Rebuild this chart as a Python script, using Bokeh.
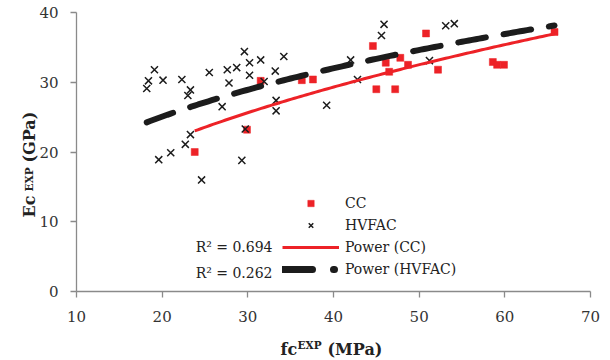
import math
import numpy as np
from bokeh.plotting import figure
from bokeh.models import Range1d, FixedTicker, Label, Legend, LegendItem
from bokeh.embed import file_html
from bokeh.resources import INLINE

# ---- data ----
cc_fc = [23.8, 29.9, 31.5, 36.3, 37.6, 44.6, 45.0, 46.1, 46.5, 47.2, 47.8, 48.7,
         50.8, 52.2, 58.6, 59.1, 59.9, 65.8]
cc_ec = [20.0, 23.2, 30.2, 30.3, 30.4, 35.2, 29.0, 32.8, 31.5, 29.0, 33.5, 32.5,
         37.0, 31.8, 32.9, 32.5, 32.5, 37.2]

hv_fc = [18.2, 18.4, 19.1, 20.1, 22.3, 23.0, 23.3, 25.5, 27.6, 27.8, 28.7, 29.6,
         30.2, 30.2, 31.5, 31.9, 33.2, 34.2, 27.0, 33.3, 33.3, 23.3, 22.7, 21.0,
         19.6, 24.6, 29.3, 29.7, 39.2, 42.0, 42.8, 45.9, 45.6, 51.2, 53.1, 54.1]
hv_ec = [29.1, 30.2, 31.8, 30.3, 30.4, 28.1, 28.9, 31.4, 31.8, 29.9, 32.1, 34.4,
         32.8, 31.0, 33.2, 30.1, 31.6, 33.7, 26.5, 27.4, 25.9, 22.5, 21.1, 19.9,
         18.9, 16.0, 18.8, 23.3, 26.7, 33.2, 30.4, 38.3, 36.7, 33.1, 38.1, 38.4]

x_ticks = [10, 20, 30, 40, 50, 60, 70]
y_ticks = [0, 10, 20, 30, 40]
series_names = ["CC", "HVFAC", "Power (CC)", "Power (HVFAC)"]
r2_texts = ["R\u00b2 = 0.694", "R\u00b2 = 0.262"]
cc_trend_range = [min(cc_fc), max(cc_fc)]
hv_trend_range = [min(hv_fc), 65.8]

RED = "#ED2227"
BLACK = "#1c1c1c"
AXIS = "#8a8a8a"
FONT = "DejaVu Serif"

# ---- layout: the frame spans the whole canvas, axes drawn at fixed locations ----
W, H = 610, 360
PLOT_L, PLOT_R, PLOT_T, PLOT_B = 76, 590, 12, 291   # pixel box of the axes
xmin, xmax = x_ticks[0], x_ticks[-1]
ymin, ymax = y_ticks[0], y_ticks[-1]
xu = (xmax - xmin) / (PLOT_R - PLOT_L)
yu = (ymax - ymin) / (PLOT_B - PLOT_T)
x_range = Range1d(xmin - PLOT_L * xu, xmax + (W - PLOT_R) * xu)
y_range = Range1d(ymin - (H - PLOT_B) * yu, ymax + PLOT_T * yu)


def power_fit(x, y):
    b, ln_a = np.polyfit(np.log(x), np.log(y), 1)
    return math.exp(ln_a), b


def trend(x, y, rng):
    a, b = power_fit(np.array(x), np.array(y))
    xs = np.linspace(rng[0], rng[1], 120)
    return xs, a * xs ** b


p = figure(width=W, height=H, output_backend="svg", toolbar_location=None,
           x_range=x_range, y_range=y_range, min_border=0)
p.outline_line_color = None
p.xgrid.visible = False
p.ygrid.visible = False

p.xaxis.fixed_location = ymin
p.yaxis.fixed_location = xmin
p.xaxis.bounds = (xmin, xmax)
p.yaxis.bounds = (ymin, ymax)
for ax, ticks in ((p.xaxis[0], x_ticks), (p.yaxis[0], y_ticks)):
    ax.ticker = FixedTicker(ticks=ticks)
    ax.minor_tick_line_color = None
    ax.axis_line_color = AXIS
    ax.axis_line_width = 1.3
    ax.major_tick_line_color = AXIS
    ax.major_tick_line_width = 1.3
    ax.major_tick_in = 0
    ax.major_tick_out = 6
    ax.major_label_text_font = FONT
    ax.major_label_text_font_size = "15px"
    ax.major_label_text_color = "#333333"
p.xaxis.major_label_standoff = 13
p.yaxis.major_label_standoff = 12

# scatter points
r_cc = p.scatter(cc_fc, cc_ec, marker="square", size=7, fill_color=RED,
                 line_color=RED, line_width=0.5)
r_hv = p.scatter(hv_fc, hv_ec, marker="x", size=10, line_color=BLACK,
                 line_width=1.5)

# trend lines (power fits of each series)
hx, hy = trend(hv_fc, hv_ec, hv_trend_range)
r_hv_t = p.line(hx, hy, line_color=BLACK, line_width=6, line_cap="round",
                line_dash="28 18")
cx, cy = trend(cc_fc, cc_ec, cc_trend_range)
r_cc_t = p.line(cx, cy, line_color=RED, line_width=3)

# hidden copy of the HVFAC trend, styled as its legend sample (long dash + dot)
r_hv_leg = p.line(hx, hy, line_color=BLACK, line_width=7, line_cap="round",
                  line_dash="30 21 1 100", visible=False)

legend = Legend(items=[
    LegendItem(label=series_names[0], renderers=[r_cc]),
    LegendItem(label=series_names[1], renderers=[r_hv]),
    LegendItem(label=series_names[2], renderers=[r_cc_t]),
    LegendItem(label=series_names[3], renderers=[r_hv_leg]),
], location=(282, H - 277), margin=0, padding=0, spacing=6,
    glyph_width=57, glyph_height=16, label_height=16, label_standoff=6,
    label_text_font=FONT, label_text_font_size="14px",
    label_text_color="#222222", border_line_alpha=0,
    background_fill_alpha=0)
p.add_layout(legend)

# R^2 annotations
for txt, by in zip(r2_texts, (246, 272)):
    p.add_layout(Label(x=272, y=H - by, x_units="screen", y_units="screen",
                       text=txt, text_align="right", text_baseline="alphabetic",
                       text_font=FONT, text_font_size="14px",
                       text_color="#222222"))


# axis titles
def lab(x, y, t, size, angle=0.0):
    p.add_layout(Label(x=x, y=H - y, x_units="screen", y_units="screen", text=t,
                       angle=angle, text_align="left",
                       text_baseline="alphabetic", text_font=FONT,
                       text_font_style="bold", text_font_size=size,
                       text_color="#222222"))


lab(280, 349, "fc", "16px")
lab(297, 344, "EXP", "10.5px")
lab(327, 349, "(MPa)", "16px")

lab(28.5, 217, "Ec", "16px", math.pi / 2)
lab(28.5, 191, "EXP", "10.5px", math.pi / 2)
lab(28.5, 162, "(GPa)", "16px", math.pi / 2)

open("out.html", "w").write(file_html(p, INLINE))
